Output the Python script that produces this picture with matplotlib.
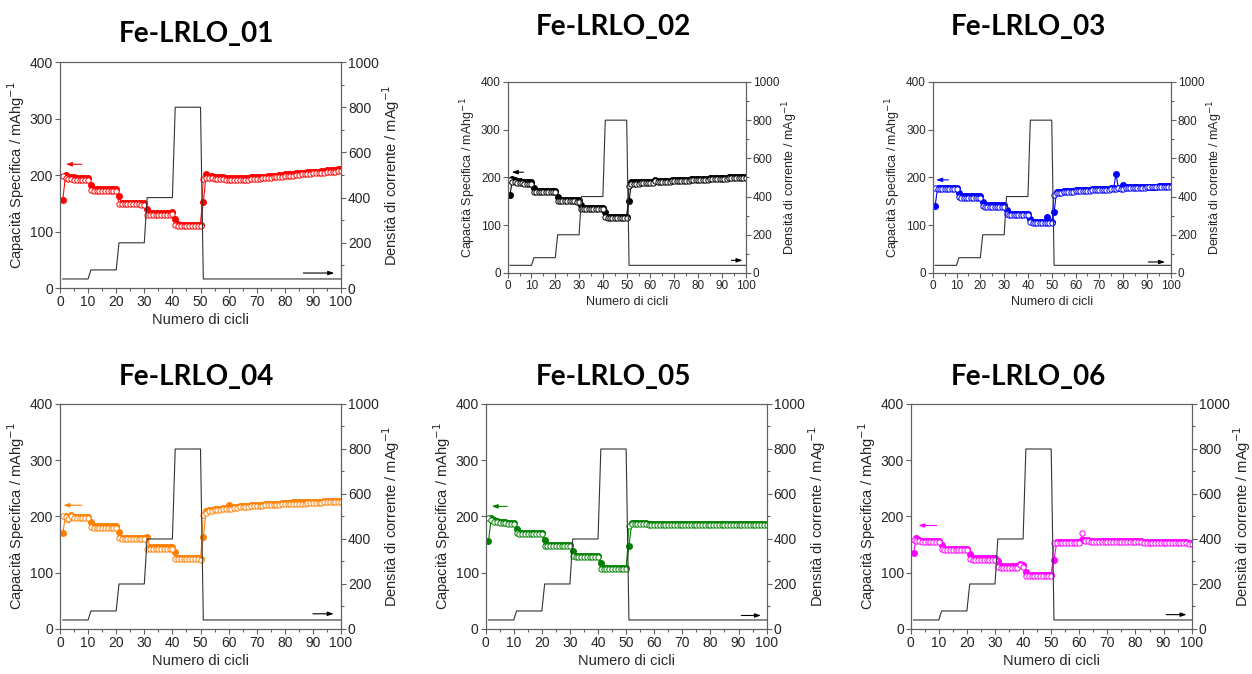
import numpy as np
import matplotlib.pyplot as plt
from matplotlib.ticker import MultipleLocator

plt.rcParams['font.family'] = ['Liberation Sans', 'DejaVu Sans']

# Cycle number and applied current density (mA/g)
cycles = np.arange(1, 101)
current = [40]*10 + [80]*10 + [200]*10 + [400]*10 + [800]*10 + [40]*50

# Fe-LRLO_01 (open = discharge, filled = charge)
dis_01 = [198, 194, 193, 193, 192, 192, 192, 192, 192, 192,
          173, 172, 172, 172, 172, 172, 172, 172, 172, 172,
          149, 148, 148, 148, 148, 148, 148, 148, 147, 147,
          130, 130, 130, 130, 130, 130, 130, 130, 130, 131,
          111, 110, 110, 110, 110, 110, 110, 110, 110, 110,
          193, 195, 194, 194, 193, 193, 193, 193, 192, 192,
          192, 192, 192, 192, 192, 192, 192, 193, 193, 193,
          193, 194, 194, 195, 195, 196, 196, 197, 197, 198,
          198, 199, 199, 200, 200, 201, 201, 202, 202, 203,
          203, 203, 204, 204, 205, 205, 206, 206, 207, 207]
ch_01 = [156, 200, 197, 196, 196, 195, 195, 195, 195, 195,
         183, 175, 175, 175, 175, 175, 175, 175, 175, 175,
         162, 151, 151, 150, 150, 150, 150, 150, 150, 150,
         140, 133, 133, 133, 133, 133, 133, 133, 133, 134,
         122, 113, 112, 112, 112, 112, 112, 112, 112, 112,
         152, 201, 199, 198, 197, 197, 196, 196, 195, 195,
         195, 195, 195, 195, 195, 195, 195, 196, 196, 196,
         196, 197, 197, 198, 198, 199, 199, 200, 200, 201,
         201, 202, 202, 203, 203, 204, 204, 205, 205, 206,
         206, 206, 207, 207, 208, 208, 209, 209, 210, 210]

# Fe-LRLO_02
dis_02 = [195, 191, 190, 189, 188, 188, 187, 187, 186, 186,
          170, 169, 169, 169, 169, 169, 169, 169, 169, 169,
          151, 150, 150, 150, 150, 150, 150, 150, 149, 149,
          135, 134, 134, 134, 134, 134, 134, 134, 134, 134,
          117, 116, 116, 116, 116, 116, 116, 116, 116, 116,
          183, 187, 187, 187, 187, 188, 188, 188, 188, 188,
          189, 192, 191, 191, 191, 191, 191, 191, 192, 192,
          192, 192, 193, 193, 193, 193, 194, 194, 194, 194,
          195, 195, 195, 195, 196, 196, 196, 196, 197, 197,
          197, 197, 198, 198, 198, 198, 199, 199, 199, 199]
ch_02 = [164, 197, 194, 193, 192, 191, 191, 190, 190, 190,
         178, 172, 172, 172, 172, 172, 172, 172, 172, 172,
         160, 153, 153, 153, 153, 153, 153, 153, 152, 152,
         143, 137, 137, 137, 137, 137, 137, 137, 137, 137,
         127, 118, 118, 118, 118, 118, 118, 118, 118, 118,
         151, 190, 190, 190, 190, 190, 190, 190, 190, 190,
         191, 194, 193, 193, 193, 193, 193, 193, 194, 194,
         194, 194, 195, 195, 195, 195, 196, 196, 196, 196,
         197, 197, 197, 197, 198, 198, 198, 198, 199, 199,
         199, 199, 200, 200, 200, 200, 201, 201, 201, 201]

# Fe-LRLO_03
dis_03 = [178, 175, 175, 175, 175, 175, 175, 175, 175, 175,
          160, 158, 158, 158, 158, 158, 158, 158, 158, 158,
          141, 139, 139, 139, 139, 139, 139, 139, 139, 139,
          123, 121, 121, 121, 121, 121, 121, 121, 121, 121,
          106, 104, 104, 104, 104, 104, 104, 104, 104, 104,
          164, 167, 168, 168, 169, 169, 170, 170, 170, 171,
          171, 171, 172, 172, 172, 172, 173, 173, 173, 173,
          174, 174, 174, 174, 175, 175, 176, 177, 175, 175,
          177, 177, 177, 177, 178, 178, 178, 178, 178, 179,
          179, 179, 179, 179, 180, 180, 180, 180, 180, 180]
ch_03 = [140, 178, 178, 178, 178, 178, 178, 178, 178, 178,
         167, 162, 162, 162, 162, 162, 162, 162, 162, 162,
         149, 142, 142, 142, 142, 142, 142, 142, 142, 142,
         132, 124, 124, 124, 124, 124, 124, 124, 124, 124,
         114, 106, 106, 106, 106, 106, 106, 118, 106, 106,
         128, 169, 170, 170, 171, 171, 172, 172, 172, 173,
         173, 173, 174, 174, 174, 174, 175, 175, 175, 175,
         176, 176, 176, 176, 177, 177, 207, 178, 177, 184,
         179, 179, 179, 179, 180, 180, 180, 180, 180, 181,
         181, 181, 181, 181, 182, 182, 182, 182, 182, 182]

# Fe-LRLO_04
dis_04 = [200, 199, 195, 200, 197, 197, 197, 197, 197, 197,
          181, 180, 180, 180, 180, 180, 180, 180, 180, 180,
          161, 160, 160, 160, 160, 160, 160, 160, 160, 160,
          142, 143, 143, 143, 143, 143, 143, 143, 143, 143,
          125, 124, 124, 124, 124, 124, 124, 124, 124, 123,
          203, 207, 209, 210, 211, 212, 212, 213, 213, 214,
          214, 215, 215, 216, 216, 217, 217, 218, 218, 219,
          219, 219, 220, 220, 220, 221, 221, 221, 222, 222,
          222, 222, 223, 223, 223, 223, 223, 224, 224, 224,
          224, 224, 224, 225, 225, 225, 225, 225, 225, 225]
ch_04 = [171, 201, 196, 202, 199, 199, 199, 199, 199, 199,
         190, 183, 183, 183, 183, 183, 183, 183, 183, 183,
         172, 162, 162, 162, 162, 162, 162, 162, 162, 162,
         164, 146, 145, 145, 145, 145, 145, 145, 145, 145,
         136, 126, 126, 126, 126, 126, 126, 126, 126, 125,
         163, 209, 211, 212, 213, 214, 214, 215, 215, 220,
         216, 217, 217, 218, 218, 219, 219, 220, 220, 221,
         221, 221, 222, 222, 222, 223, 223, 223, 224, 224,
         224, 224, 225, 225, 225, 225, 225, 226, 226, 226,
         226, 226, 226, 227, 227, 227, 227, 227, 227, 227]

# Fe-LRLO_05
dis_05 = [197, 193, 191, 190, 189, 188, 188, 187, 187, 186,
          171, 169, 169, 169, 169, 169, 169, 169, 169, 169,
          148, 147, 147, 147, 147, 147, 147, 147, 147, 147,
          130, 128, 128, 128, 128, 128, 128, 128, 128, 128,
          106, 106, 106, 106, 106, 106, 106, 106, 106, 106,
          183, 186, 187, 186, 186, 186, 186, 185, 185, 185,
          185, 185, 185, 185, 185, 185, 185, 185, 185, 185,
          185, 185, 184, 185, 185, 185, 185, 185, 185, 185,
          185, 185, 185, 185, 185, 185, 185, 185, 185, 185,
          185, 185, 185, 185, 185, 185, 185, 185, 185, 185]
ch_05 = [156, 197, 194, 192, 191, 190, 190, 189, 189, 189,
         177, 171, 171, 171, 171, 171, 171, 171, 171, 171,
         158, 149, 149, 149, 149, 149, 149, 149, 149, 149,
         139, 130, 130, 130, 130, 130, 130, 130, 130, 130,
         117, 108, 108, 108, 108, 108, 108, 108, 108, 108,
         148, 188, 189, 188, 188, 188, 188, 187, 187, 187,
         187, 187, 187, 187, 187, 187, 187, 187, 187, 187,
         187, 187, 186, 187, 187, 187, 187, 187, 187, 187,
         187, 187, 187, 187, 187, 187, 187, 187, 187, 187,
         187, 187, 187, 187, 187, 187, 187, 187, 187, 187]

# Fe-LRLO_06
dis_06 = [159, 157, 156, 155, 155, 155, 155, 155, 155, 155,
          142, 140, 140, 140, 140, 140, 140, 140, 140, 140,
          125, 123, 123, 123, 123, 123, 123, 123, 123, 123,
          110, 109, 109, 109, 109, 109, 109, 109, 114, 111,
          95, 94, 94, 94, 94, 94, 94, 94, 94, 94,
          152, 152, 152, 152, 152, 152, 152, 152, 152, 152,
          170, 156, 156, 155, 155, 155, 155, 155, 155, 155,
          155, 155, 154, 154, 154, 154, 154, 154, 154, 154,
          154, 154, 153, 153, 153, 153, 153, 153, 153, 153,
          152, 152, 152, 152, 152, 152, 152, 152, 151, 151]
ch_06 = [135, 162, 158, 157, 157, 157, 157, 157, 157, 157,
         150, 143, 143, 143, 143, 143, 143, 143, 143, 143,
         134, 126, 126, 126, 126, 126, 126, 126, 126, 126,
         120, 112, 112, 112, 112, 112, 112, 112, 116, 113,
         102, 96, 96, 96, 96, 96, 96, 96, 96, 96,
         123, 155, 155, 155, 155, 155, 155, 155, 155, 155,
         158, 158, 158, 157, 157, 157, 157, 157, 157, 157,
         157, 157, 156, 156, 156, 156, 156, 156, 156, 156,
         156, 156, 155, 155, 155, 155, 155, 155, 155, 155,
         154, 154, 154, 154, 154, 154, 154, 154, 153, 153]

titles = ['Fe-LRLO_01', 'Fe-LRLO_02', 'Fe-LRLO_03',
          'Fe-LRLO_04', 'Fe-LRLO_05', 'Fe-LRLO_06']
colors = ['#ff0000', '#000000', '#0000ff', '#ff7f00', '#008000', '#ff00ff']
discharge = [dis_01, dis_02, dis_03, dis_04, dis_05, dis_06]
charge = [ch_01, ch_02, ch_03, ch_04, ch_05, ch_06]

# layout of the panels (figure fractions) and text sizes
boxes = [[0.0479, 0.5727, 0.2245, 0.3353],
         [0.4055, 0.5950, 0.1901, 0.2834],
         [0.7450, 0.5950, 0.1901, 0.2834],
         [0.0479, 0.0668, 0.2245, 0.3338],
         [0.3879, 0.0668, 0.2244, 0.3338],
         [0.7274, 0.0668, 0.2244, 0.3338]]
title_pos = [(0.157, 0.9377), (0.4896, 0.948), (0.821, 0.948),
             (0.157, 0.4288), (0.4896, 0.4288), (0.821, 0.4288)]
tick_sizes = [10, 8.5, 8.5, 10, 10, 10]
label_sizes = [10.5, 9, 9, 10.5, 10.5, 10.5]
# arrows: (y, x_from, x_to) for capacity arrow, then (y, x_from, x_to) for current arrow
left_arrows = [(219, 7.7, 2.1), (211, 6.6, 1.7), (195, 6.6, 1.4),
               (220, 7.7, 1.2), (218, 7.7, 2.1), (184, 9.2, 2.7)]
right_arrows = [(26.5, 86.6, 97.6), (26.5, 94, 98.7), (23, 90.6, 97.6),
                (27, 90, 97.4), (24, 91, 98), (25.5, 91, 98.2)]

fig = plt.figure(figsize=(12.52, 6.74), dpi=100)
spine_col = '#606060'
text_col = '#262626'

for i in range(6):
    fs = tick_sizes[i]
    ls = label_sizes[i]
    ax = fig.add_axes(boxes[i])
    ax2 = ax.twinx()

    # capacity: charge (filled) below, discharge (open) on top
    ax.plot(cycles, charge[i], '-o', color=colors[i], lw=0.8, ms=4,
            mfc=colors[i], mec=colors[i], zorder=2)
    ax.plot(cycles, discharge[i], '-o', color=colors[i], lw=0.6, ms=3.8,
            mfc='white', mec=colors[i], mew=0.7, zorder=3)

    # current density on right axis
    ax2.plot(cycles, current, color='#333333', lw=0.8)

    ax.set_xlim(0, 100)
    ax.set_ylim(0, 400)
    ax2.set_ylim(0, 1000)
    ax.set_xticks(np.arange(0, 101, 10))
    ax.xaxis.set_minor_locator(MultipleLocator(5))
    ax.set_yticks([0, 100, 200, 300, 400])
    ax2.set_yticks([0, 200, 400, 600, 800, 1000])
    ax2.yaxis.set_minor_locator(MultipleLocator(100))

    for a in (ax, ax2):
        for s in a.spines.values():
            s.set_color(spine_col)
            s.set_linewidth(0.8)
        a.tick_params(which='both', direction='out', colors=spine_col,
                      labelcolor=text_col, labelsize=fs, width=0.8, pad=1.5)
        a.tick_params(which='major', length=3.5)
        a.tick_params(which='minor', length=2)

    ax.set_xlabel('Numero di cicli', fontsize=ls, color=text_col, labelpad=3)
    ax.set_ylabel('Capacità Specifica / mAhg$^{-1}$', fontsize=ls,
                  color=text_col, labelpad=2)
    ax2.set_ylabel('Densità di corrente / mAg$^{-1}$', fontsize=ls,
                   color=text_col, rotation=90, labelpad=1)

    # direction arrows
    y, x0, x1 = left_arrows[i]
    ax.annotate('', xy=(x1, y), xytext=(x0, y),
                arrowprops=dict(arrowstyle='-|>,head_length=0.35,head_width=0.12',
                                color=colors[i], lw=0.8, shrinkA=0, shrinkB=0))
    y, x0, x1 = right_arrows[i]
    ax.annotate('', xy=(x1, y), xytext=(x0, y),
                arrowprops=dict(arrowstyle='-|>,head_length=0.35,head_width=0.12',
                                color='black', lw=0.8, shrinkA=0, shrinkB=0))

    fig.text(title_pos[i][0], title_pos[i][1], titles[i], ha='center',
             va='baseline', fontsize=20, fontweight='bold', family='Lato',
             color='black')

fig.savefig('out.png', dpi=100)
